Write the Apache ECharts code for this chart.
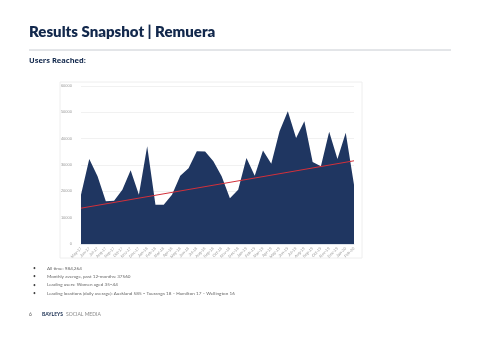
<!DOCTYPE html>
<html>
<head>
<meta charset="utf-8">
<script src="https://cdn.jsdelivr.net/npm/echarts@6/dist/echarts.min.js"></script>
<style>html,body{margin:0;padding:0;background:#fff;}#c{width:480px;height:339px;}</style>
</head>
<body>
<div id="c"></div>
<script>
const categories = ["May-17","Jun-17","Jul-17","Aug-17","Sep-17","Oct-17","Nov-17","Dec-17",
  "Jan-18","Feb-18","Mar-18","Apr-18","May-18","Jun-18","Jul-18","Aug-18","Sep-18","Oct-18","Nov-18","Dec-18",
  "Jan-19","Feb-19","Mar-19","Apr-19","May-19","Jun-19","Jul-19","Aug-19","Sep-19","Oct-19","Nov-19","Dec-19",
  "Jan-20","Feb-20"];
const usersReached = [18700,32300,25700,16200,16400,20600,28000,18700,37100,14900,14900,18700,25900,28800,35200,35100,
  31400,25700,17400,20600,32700,25900,35500,30500,42800,50400,40300,46600,31100,29500,42600,32300,42200,22500];
const trendStart = 13600;
const trendEnd = 31600;
const yTicks = [0,10000,20000,30000,40000,50000,60000];
const bullets = [
  "All time: 984,264",
  "Monthly average, past 12-months: 37560",
  "Leading users: Women aged 35–44",
  "Leading locations (daily average): Auckland 585 – Tauranga 18 – Hamilton 17 – Wellington 16"
];

const chart = echarts.init(document.getElementById('c'), null, {renderer:'canvas'});
const navy = '#1f3661';
const graphics = [
  {type:'text', left:29, top:25, style:{text:'Results Snapshot | Remuera', font:'800 15px Lato', fill:'#12284c'}},
  {type:'line', shape:{x1:29,y1:50,x2:451,y2:50}, style:{stroke:'#c8ccd2', lineWidth:1}},
  {type:'text', left:29, top:57, style:{text:'Users Reached:', font:'bold 7.5px "Open Sans"', fill:'#12284c'}},
  {type:'rect', shape:{x:60,y:82,width:302,height:176}, style:{fill:'#fff', stroke:'#eeeeee', lineWidth:1}, z:-10},
  {type:'text', left:29, top:312, style:{text:'6', font:'5px Lato', fill:'#555'}},
  {type:'text', left:42, top:312, style:{text:'BAYLEYS', font:'bold 5px Lato', fill:'#12284c'}},
  {type:'text', left:66, top:312, style:{text:'SOCIAL MEDIA', font:'5px Lato', fill:'#888'}}
];
bullets.forEach((b,i)=>{
  graphics.push({type:'text', left:33, top:266+i*8.2, style:{text:'•', font:'5px Lato', fill:'#444'}});
  graphics.push({type:'text', left:47, top:266+i*8.2, style:{text:b, font:'4.6px Lato', fill:'#666'}});
});

chart.setOption({
  animation:false,
  graphic: graphics,
  grid:{left:81, right:126, top:86, bottom:95, containLabel:false},
  xAxis:{type:'category', data:categories, boundaryGap:false,
    axisLine:{lineStyle:{color:'#dde3ea'}}, axisTick:{show:false},
    axisLabel:{interval:0, rotate:45, fontSize:4, color:'#999', margin:4}},
  yAxis:{type:'value', min:yTicks[0], max:yTicks[yTicks.length-1], interval:10000,
    axisLine:{show:false}, axisTick:{show:false},
    axisLabel:{fontSize:4, color:'#999', margin:9, formatter:(v)=>String(v)},
    splitLine:{lineStyle:{color:'#eeeeee', width:0.8}}},
  series:[
    {type:'line', data:usersReached, symbol:'none', lineStyle:{width:0}, areaStyle:{color:navy, opacity:1}, z:2,
     markLine:{silent:true, symbol:'none', label:{show:false}, lineStyle:{color:'#d2303a', width:1, type:'solid'},
       data:[[{coord:[categories[0], trendStart]},{coord:[categories[categories.length-1], trendEnd]}]]}}
  ]
});
</script>
</body>
</html>
